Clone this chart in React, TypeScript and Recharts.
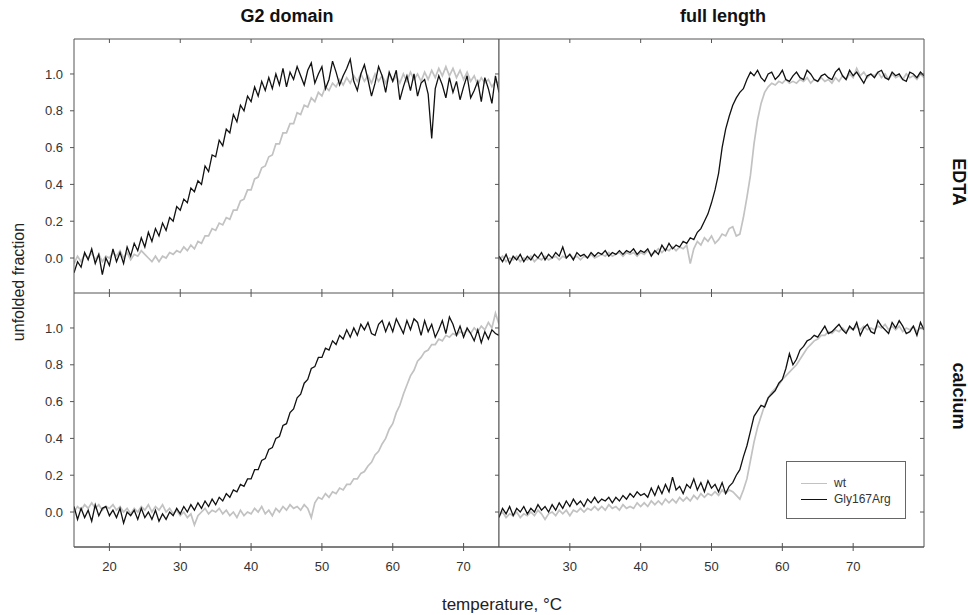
import { Legend, Line, LineChart, XAxis, YAxis } from 'recharts';

// sampling grid, one reading every 0.5 °C
const G2_TEMPS = Array.from({ length: 121 }, (_, i) => 15 + i * 0.5);
const FULL_TEMPS = Array.from({ length: 121 }, (_, i) => 20 + i * 0.5);

// unfolded fraction, in hundredths
const G2_EDTA_WT = [
  -3, 1, -2, 2, 0, 3, -1, 2, -2, 1,
  0, 3, 1, 4, 0, 3, -1, 2, 1, 4,
  2, 0, -2, 1, -2, 1, 0, 3, 2, 4,
  3, 6, 4, 7, 5, 9, 8, 12, 12, 16,
  15, 19, 18, 22, 21, 26, 26, 31, 32, 37,
  37, 43, 44, 49, 50, 55, 56, 62, 62, 68,
  68, 73, 73, 79, 78, 83, 82, 87, 85, 90,
  88, 93, 91, 95, 93, 97, 94, 98, 95, 99,
  96, 100, 96, 99, 95, 100, 96, 99, 95, 100,
  96, 99, 95, 100, 96, 101, 97, 100, 96, 101,
  97, 102, 98, 103, 99, 104, 99, 103, 98, 102,
  97, 101, 96, 99, 94, 98, 95, 97, 93, 96,
  95,
];
const G2_EDTA_MUT = [
  -8, -2, -5, 3, -1, 5, -3, 2, -9, 0,
  -4, 5, -2, 3, -3, 6, 1, 8, 4, 11,
  6, 14, 9, 16, 12, 19, 15, 22, 20, 28,
  26, 32, 30, 38, 36, 42, 40, 50, 47, 56,
  55, 64, 61, 70, 68, 78, 74, 83, 80, 88,
  85, 93, 88, 96, 91, 98, 92, 100, 94, 103,
  93, 101, 97, 104, 99, 94, 102, 106, 95, 100,
  104, 92, 97, 107, 101, 94, 99, 103, 108, 96,
  91, 100, 105, 97, 88, 95, 104, 99, 90, 101,
  96, 102, 86, 93, 99, 91, 100, 88, 95, 97,
  89, 65, 92, 99, 94, 87, 98, 90, 96, 86,
  93, 99, 87, 91, 96, 85, 98, 92, 84, 99,
  90,
];
const G2_CA_WT = [
  0, 3, 1, 4, 2, 5, 2, 4, 1, 3,
  2, 4, 1, 3, 0, 2, -1, 2, 0, 3,
  1, 4, 0, 3, 1, 4, 0, 2, -1, 1,
  -2, 0, -3, -1, -7, -2, 0, 2, -1, 1,
  0, 2, -1, 1, -2, 0, -3, 1, -2, 0,
  -1, 2, 0, 3, -1, 1, -2, 2, 0, 3,
  1, 4, 2, 3, 1, 4, 2, -3, 5, 8,
  7, 10, 8, 11, 10, 13, 12, 15, 15, 18,
  18, 21, 22, 25, 27, 31, 33, 37, 40, 45,
  48, 54, 58, 64, 69, 74, 77, 82, 84, 87,
  88, 91, 91, 94, 93, 96, 95, 97, 96, 98,
  97, 99, 97, 100, 98, 101, 99, 103, 100, 108,
  102,
];
const G2_CA_MUT = [
  3, -4, 2, -3, 1, -5, 4, -2, 2, 3,
  -2, 1, -3, 2, -6, 0, -2, 1, -4, 2,
  -3, 0, -4, 1, -5, -1, -4, 0, -2, 2,
  -1, 3, 0, 4, 1, 5, 2, 6, 3, 7,
  4, 8, 6, 10, 8, 12, 11, 15, 14, 18,
  18, 23, 23, 28, 29, 34, 35, 40, 41, 47,
  48, 54, 56, 62, 64, 70, 72, 78, 79, 84,
  84, 89, 88, 93, 91, 96, 94, 99, 95, 100,
  96, 102, 99, 103, 97, 96, 102, 104, 98, 103,
  98, 105, 101, 97, 104, 99, 105, 103, 96, 104,
  98, 102, 95, 99, 104, 97, 106, 102, 96, 101,
  95, 100, 97, 93, 99, 92, 98, 94, 99, 97,
  96,
];
const FULL_EDTA_WT = [
  -1, 1, -2, 0, -1, 1, -2, 0, -1, 1,
  -2, 0, -1, 1, -1, 0, 1, -1, 1, 0,
  2, 0, 1, -1, 1, 0, 2, 0, 1, 2,
  1, 3, 1, 2, 3, 1, 3, 2, 3, 1,
  3, 2, 4, 2, 3, 5, 3, 5, 4, 6,
  4, 6, 5, 7, -3, 5, 9, 7, 11, 9,
  12, 8, 10, 13, 12, 16, 17, 12, 13, 22,
  33, 45, 62, 75, 84, 90, 93, 95, 94, 96,
  95, 97, 95, 96, 95, 97, 96, 98, 95, 97,
  96, 98, 96, 97, 95, 98, 96, 99, 97, 100,
  98, 103, 99, 101, 98, 100, 99, 101, 98, 100,
  97, 100, 98, 99, 97, 100, 98, 99, 97, 100,
  98,
];
const FULL_EDTA_MUT = [
  1, -2, 2, -3, 1, -1, 2, -2, 1, -1,
  2, 0, 3, -1, 2, 0, 3, 1, 6, 0,
  2, -1, 3, 1, 2, 0, 3, 1, 3, 2,
  4, 1, 3, 2, 4, 2, 4, 3, 5, 2,
  4, 3, 5, 1, 4, 2, 7, 4, 8, 5,
  7, 6, 9, 8, 11, 10, 14, 16, 20, 24,
  30, 37, 46, 60, 70, 77, 83, 87, 90, 92,
  97, 101, 99, 102, 98, 96, 100, 101, 97, 99,
  102, 97, 96, 99, 101, 98, 97, 102, 100, 97,
  96, 99, 100, 98, 97, 101, 103, 99, 97, 102,
  99, 101, 98, 95, 99, 100, 98, 101, 102, 98,
  97, 101, 99, 100, 97, 96, 101, 100, 98, 101,
  99,
];
const FULL_CA_WT = [
  -2, 0, -3, -1, -2, 0, -3, -1, -2, 0,
  -2, 1, -1, -4, -1, 0, -2, 1, -1, 1,
  -2, 1, 0, 2, 0, 2, 1, 3, 1, 3,
  1, 4, 2, 3, 1, 4, 2, 3, 2, 5,
  3, 5, 3, 6, 4, 6, 4, 7, 5, 7,
  5, 8, 6, 8, 6, 9, 7, 10, 8, 10,
  9, 11, 9, 12, 10, 12, 11, 9, 7, 12,
  18, 28, 38, 46, 52, 58, 62, 65, 67, 69,
  72, 74, 76, 78, 80, 83, 86, 89, 91, 93,
  94, 96, 96, 98, 97, 99, 98, 100, 98, 100,
  99, 101, 99, 101, 99, 100, 99, 101, 100, 102,
  99, 101, 99, 101, 98, 100, 99, 101, 98, 100,
  99,
];
const FULL_CA_MUT = [
  -3, 2, -1, 3, -2, 2, 0, 3, -1, 2,
  0, 4, 1, 3, 0, 4, 1, 5, 2, 6,
  3, 7, 4, 6, 3, 7, 5, 8, 5, 7,
  6, 8, 5, 8, 6, 9, 7, 10, 8, 11,
  9, 10, 8, 13, 9, 14, 10, 15, 11, 19,
  12, 14, 10, 15, 13, 18, 12, 16, 11, 17,
  13, 15, 11, 16, 10, 14, 16, 20, 23, 30,
  36, 44, 52, 55, 58, 57, 62, 64, 66, 70,
  72, 78, 86, 80, 83, 88, 90, 93, 94, 96,
  95, 98, 101, 97, 98, 100, 102, 99, 97, 101,
  99, 103, 96, 100, 102, 98, 97, 104, 101, 99,
  97, 103, 100, 104, 101, 97, 98, 101, 96, 103,
  99,
];

const G2_TICKS = [20, 30, 40, 50, 60, 70];
const FULL_TICKS = [30, 40, 50, 60, 70];
const Y_TICKS = [0, 0.2, 0.4, 0.6, 0.8, 1.0];
const Y_DOMAIN: [number, number] = [-0.19, 1.19];
const LEGEND_ORDER = ['wt', 'Gly167Arg'];

const AXIS = '#555';
const WT_COLOR = '#c2c2c2';
const MUT_COLOR = '#111';

function rows(temps: number[], wt: number[], mut: number[]) {
  return temps.map((t, i) => ({ t, wt: wt[i] / 100, mut: mut[i] / 100 }));
}

// keeps the tick marks but draws no label
const NoLabel = () => <g />;

function LegendBox({ payload }: any) {
  const items = [...(payload || [])].sort(
    (a: any, b: any) => LEGEND_ORDER.indexOf(a.value) - LEGEND_ORDER.indexOf(b.value),
  );
  return (
    <div
      style={{
        boxSizing: 'border-box',
        width: 120,
        height: 58,
        border: '1px solid #666',
        background: '#fff',
        padding: '13px 0 0 14px',
      }}
    >
      {items.map((p: any) => (
        <div key={p.value} style={{ display: 'flex', alignItems: 'center', height: 16, fontSize: 12, color: '#333' }}>
          <span style={{ display: 'inline-block', width: 26, borderTop: `1.3px solid ${p.color}`, marginRight: 7 }} />
          {p.value}
        </div>
      ))}
    </div>
  );
}

interface PanelProps {
  data: { t: number; wt: number; mut: number }[];
  domain: [number, number];
  ticks: number[];
  isLeft: boolean;
  isBottom: boolean;
  legend?: boolean;
}

function Panel({ data, domain, ticks, isLeft, isBottom, legend }: PanelProps) {
  // right-hand panels start one pixel early so their 1px-wide left axis sits on x = 499
  const width = isLeft ? 499 : 470;
  const height = isBottom ? 322 : 293;
  const tickText = { fill: '#333', fontSize: 13 };
  return (
    <div style={{ position: 'absolute', left: isLeft ? 0 : 498, top: isBottom ? 293 : 0 }}>
      <LineChart
        width={width}
        height={height}
        data={data}
        margin={{ top: isBottom ? 0 : 39, right: isLeft ? 0 : 44, bottom: 0, left: 0 }}
      >
        <XAxis
          dataKey="t"
          type="number"
          domain={domain}
          ticks={ticks}
          allowDataOverflow
          height={isBottom ? 68 : 1}
          mirror={!isBottom}
          tick={isBottom ? tickText : NoLabel}
          tickSize={4}
          tickMargin={11}
          stroke={AXIS}
        />
        {isBottom && (
          <XAxis
            xAxisId="inner"
            dataKey="t"
            type="number"
            domain={domain}
            ticks={ticks}
            allowDataOverflow
            height={1}
            mirror
            tick={NoLabel}
            tickSize={4}
            stroke={AXIS}
          />
        )}
        <XAxis
          xAxisId="top"
          orientation="top"
          dataKey="t"
          type="number"
          domain={domain}
          ticks={ticks}
          allowDataOverflow
          height={1}
          mirror
          tick={NoLabel}
          tickSize={4}
          stroke={AXIS}
        />
        <YAxis
          type="number"
          domain={Y_DOMAIN}
          ticks={Y_TICKS}
          allowDataOverflow
          width={isLeft ? 74 : 1}
          tick={isLeft ? tickText : NoLabel}
          tickLine={isLeft}
          tickFormatter={(v: number) => v.toFixed(1)}
          tickSize={4}
          tickMargin={7}
          stroke={AXIS}
        />
        <YAxis
          yAxisId="right"
          orientation="right"
          type="number"
          domain={Y_DOMAIN}
          ticks={Y_TICKS}
          allowDataOverflow
          width={1}
          mirror
          tick={NoLabel}
          tickSize={4}
          stroke={AXIS}
        />
        <Line dataKey="wt" name="wt" stroke={WT_COLOR} strokeWidth={1.7} dot={false} isAnimationActive={false} />
        <Line dataKey="mut" name="Gly167Arg" stroke={MUT_COLOR} strokeWidth={1.3} dot={false} isAnimationActive={false} />
        {legend && (
          <Legend
            layout="vertical"
            align="center"
            verticalAlign="middle"
            content={LegendBox}
            wrapperStyle={{ left: 288, top: 168, width: 120, height: 58 }}
          />
        )}
      </LineChart>
    </div>
  );
}

export default function App() {
  const bold = { fontSize: 18, fontWeight: 700, fill: '#111' };
  return (
    <div
      style={{
        position: 'absolute',
        left: 0,
        top: 0,
        width: 968,
        height: 615,
        background: '#fff',
        fontFamily: '"Liberation Sans", Arial, sans-serif',
      }}
    >
      <svg width={968} height={615} style={{ position: 'absolute', left: 0, top: 0 }}>
        <text x={287} y={22} textAnchor="middle" {...bold}>G2 domain</text>
        <text x={723} y={22} textAnchor="middle" {...bold}>full length</text>
        <text x={953} y={182} textAnchor="middle" transform="rotate(90, 953, 182)" {...bold}>EDTA</text>
        <text x={953} y={396} textAnchor="middle" transform="rotate(90, 953, 396)" {...bold}>calcium</text>
        <text x={24} y={282} textAnchor="middle" transform="rotate(-90, 24, 282)" fontSize={16} fill="#222">
          unfolded fraction
        </text>
        <text x={502} y={610} textAnchor="middle" fontSize={17} fill="#222">temperature, °C</text>
      </svg>
      <Panel data={rows(G2_TEMPS, G2_EDTA_WT, G2_EDTA_MUT)} domain={[15, 75]} ticks={G2_TICKS} isLeft isBottom={false} />
      <Panel data={rows(FULL_TEMPS, FULL_EDTA_WT, FULL_EDTA_MUT)} domain={[20, 80]} ticks={FULL_TICKS} isLeft={false} isBottom={false} />
      <Panel data={rows(G2_TEMPS, G2_CA_WT, G2_CA_MUT)} domain={[15, 75]} ticks={G2_TICKS} isLeft isBottom />
      <Panel data={rows(FULL_TEMPS, FULL_CA_WT, FULL_CA_MUT)} domain={[20, 80]} ticks={FULL_TICKS} isLeft={false} isBottom legend />
    </div>
  );
}
